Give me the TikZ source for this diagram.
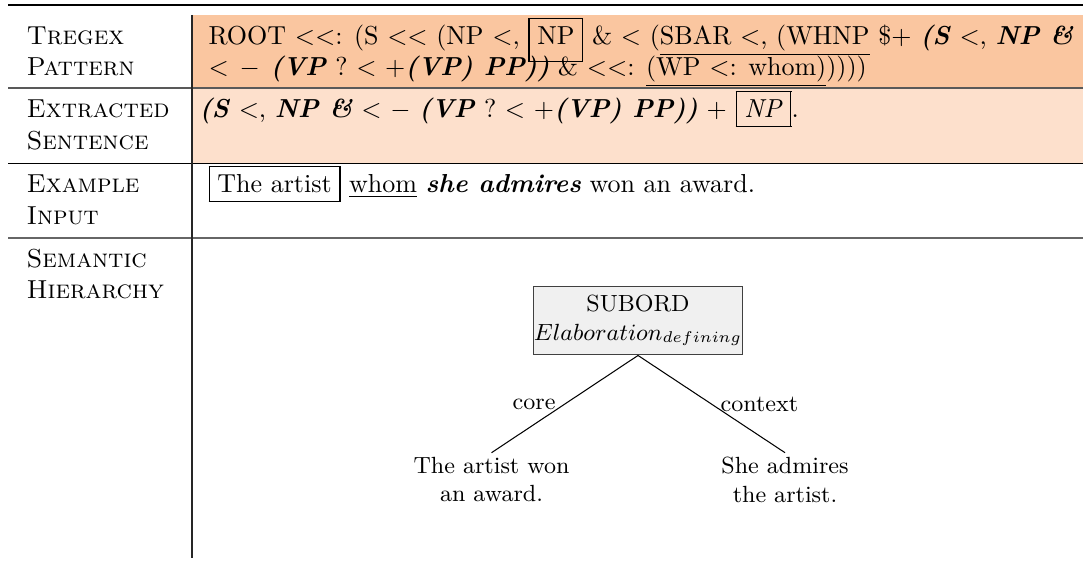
\documentclass[tikz,border=0pt]{standalone}
\usepackage{xcolor}
\definecolor{rowA}{RGB}{250,198,160}
\definecolor{rowB}{RGB}{253,224,204}
\definecolor{boxgray}{RGB}{240,240,240}
\newcommand\bix[1]{\textbf{\textit{#1}}}
\begin{document}
\begin{tikzpicture}[x=0.3846pt,y=-0.3846pt,
  txt/.style={anchor=base west, inner sep=0pt},
  leaf/.style={font=\small, align=center, inner sep=1.5pt, anchor=north},
  tbox/.style={font=\small, draw=black!75, fill=boxgray, align=center, inner sep=0pt,
    minimum width=78.5pt, minimum height=26.5pt},
  elabel/.style={font=\small},
  rulethick/.style={line width=0.8pt},
  rulemid/.style={line width=0.5pt, black!65}]
\useasboundingbox (0,0) rectangle (1083,561);
% fills
\fill[rowA] (192,15) rectangle (1083,88);
\fill[rowB] (192,88) rectangle (1083,163.3);
% rules
\draw[rulethick] (8,5) -- (1083,5);
\draw[rulemid] (8,88) -- (1083,88);
\draw[line width=0.4pt] (8,163.3) -- (1083,163.3);
\draw[line width=0.7pt, black!60] (8,238.3) -- (1083,238.3);
\draw[line width=0.5pt, black!85] (192,15) -- (192,558);
% left column
\node[txt] (l1a) at (26,44.3) {\textsc{Tregex}};
\node[txt] (l1b) at (26,75.5) {\textsc{Pattern}};
\node[txt] (l2a) at (26,118) {\textsc{Extracted}};
\node[txt] (l2b) at (26,149.2) {\textsc{Sentence}};
\node[txt] (l3a) at (26,193) {\textsc{Example}};
\node[txt] (l3b) at (26,224.2) {\textsc{Input}};
\node[txt] (l4a) at (26,267.8) {\textsc{Semantic}};
\node[txt] (l4b) at (26,299) {\textsc{Hierarchy}};
% right column
\node[txt] (p1) at (208,44.3) {ROOT $<<$: (S $<<$ (NP $<$, \fbox{\rule[-3.4pt]{0pt}{1pt}NP} \& $<$ (\underline{SBAR $<$, (WHNP} \$+ \bix{(S} $<$, \bix{NP \&}};
\node[txt] (p2) at (208,75.5) {\bix{$<$ $-$ (VP} ? $<$ +\bix{(VP) PP))} \& $<<$: \underline{(WP $<$: whom)}))))};
\node[txt] (e1) at (199,118) {\bix{(S} $<$, \bix{NP \&} $<$ $-$ \bix{(VP} ? $<$ +\bix{(VP) PP))} + \fbox{\textit{NP}}.};
\node[txt] (x1) at (208,193) {\fbox{The artist} \underline{whom} \bix{she admires} won an award.};
% tree
\node[tbox] (sub) at (638,320.5) {SUBORD\\$Elaboration_{defining}$};
\node[leaf] (core) at (491.5,452.7) {The artist won\\an award.};
\node[leaf] (ctx) at (785,452.7) {She admires\\the artist.};
\draw (sub.south) -- node[elabel, left] {core} (core.north);
\draw (sub.south) -- node[elabel, right] {context} (ctx.north);
\end{tikzpicture}
\end{document}
